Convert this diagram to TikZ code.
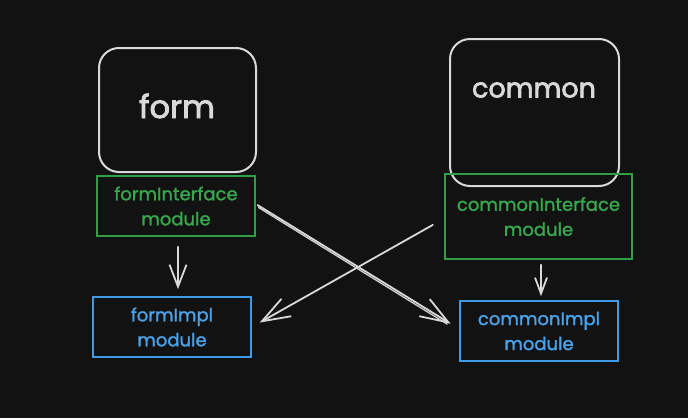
\documentclass[tikz,border=0pt]{standalone}
\usepackage{fontspec}
\setmainfont{Poppins}[FakeBold=1.5]
\newfontfamily\bigfont{Poppins}[FakeBold=2.5]
\usetikzlibrary{arrows.meta}
\definecolor{bg}{HTML}{121212}
\definecolor{strk}{HTML}{D9D9D9}
\definecolor{grn}{HTML}{2F9E44}
\definecolor{grntxt}{HTML}{38A84E}
\definecolor{blu}{HTML}{3D9BE9}
\definecolor{blutxt}{HTML}{4AA3EA}
\tikzset{
  pkg/.style={draw=strk, line width=2pt, rounded corners=20pt, inner sep=0pt},
  pkgtext/.style={text=strk},
  ifbox/.style={draw=grn, line width=1.7pt, inner sep=0pt, text=grntxt, align=center,
    font=\fontsize{18}{25}\selectfont},
  implbox/.style={draw=blu, line width=1.7pt, inner sep=0pt, text=blutxt, align=center,
    font=\fontsize{18}{25}\selectfont},
  conn/.style={draw=strk, line width=1.8pt, line cap=round}
}
\begin{document}
\begin{tikzpicture}[x=1pt,y=-1pt]
\fill[bg] (0,0) rectangle (688,418);
\useasboundingbox (0,0) rectangle (688,418);

\node[pkg, minimum width=157pt, minimum height=124pt] (form) at (177.5,110) {};
\node[pkgtext, font=\bigfont\fontsize{32}{34}\selectfont] (formtxt) at (177,106) {form};
\node[pkg, minimum width=169pt, minimum height=147pt] (common) at (534.5,112.5) {};
\node[pkgtext, font=\bigfont\fontsize{27}{30}\selectfont] (commontxt) at (534,90) {common};

\node[ifbox, minimum width=158pt, minimum height=60pt] (fi) at (176,206) {formInterface\\module};
\node[ifbox, minimum width=187pt, minimum height=85pt] (ci) at (538.5,216.5) {commonInterface\\module};
\node[implbox, minimum width=158pt, minimum height=60pt] (fm) at (172,327) {formImpl\\module};
\node[implbox, minimum width=158pt, minimum height=60pt] (cm) at (539,331) {commonImpl\\module};

\draw[conn, -{Straight Barb[length=22pt,width=17pt,line width=1.8pt]}, shorten <=10pt, shorten >=7pt]
  ([xshift=2pt]fi.south) -- ([xshift=6pt]fm.north);
\draw[conn, -{Straight Barb[length=16pt,width=12pt,line width=1.8pt]}, shorten <=5pt, shorten >=4pt]
  ([xshift=2.5pt]ci.south) -- ([xshift=2pt]cm.north);
\draw[conn, -{Straight Barb[length=28pt,width=20pt,line width=1.8pt]}, shorten <=2pt, shorten >=10pt]
  ([yshift=2pt]fi.east) -- ([yshift=2pt]cm.west);
\draw[conn, line width=1.2pt, shorten <=2pt, shorten >=14pt]
  ([yshift=-0.5pt,xshift=1pt]fi.east) -- ([yshift=-0.5pt]cm.west);
\draw[conn, -{Straight Barb[length=28pt,width=20pt,line width=1.8pt]}, shorten <=13pt, shorten >=9pt]
  ([yshift=-2pt]ci.west) -- (fm.east);
\end{tikzpicture}
\end{document}
